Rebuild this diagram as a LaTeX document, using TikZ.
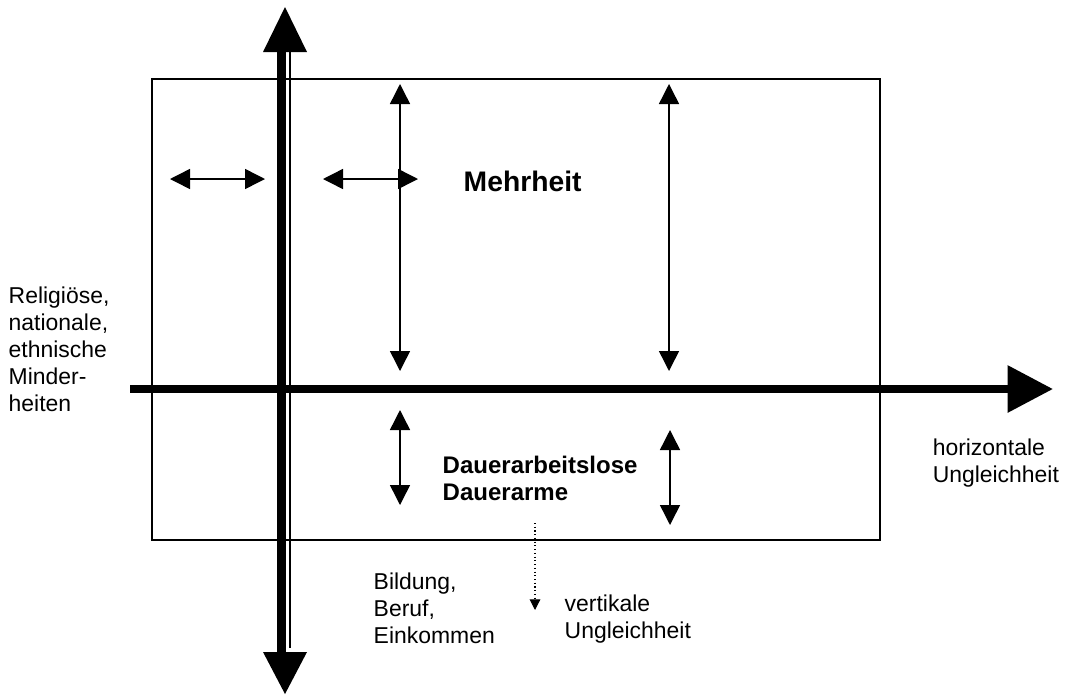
\documentclass[tikz,border=0pt]{standalone}
\usepackage{fontspec}
\setmainfont{Liberation Sans}
\usetikzlibrary{arrows.meta}

\begin{document}
\begin{tikzpicture}[x=0.75pt, y=-0.75pt, line width=1.1pt,
    dbl/.style={{Triangle[length=15pt,width=15pt]}-{Triangle[length=15pt,width=15pt]}},
    lbl/.style={anchor=base west, inner sep=0pt, align=left, font=\fontsize{17.2}{20.25}\selectfont},
    boldlbl/.style={lbl, font=\fontsize{18}{20.25}\selectfont\bfseries}]
  \useasboundingbox (0,0) rectangle (1069,697);

  % box
  \draw (152,79) rectangle (880,540);

  % vertical axis (thick + thin line)
  \draw[line width=6.75pt] (281.5,52) -- (281.5,652);
  \draw (290,52) -- (290,648);
  \fill (285,7) -- (307,52) -- (263,52) -- cycle;
  \fill (285,694) -- (307,652) -- (263,652) -- cycle;

  % horizontal axis
  \draw[line width=6pt, -{Triangle[length=34pt,width=34pt]}] (130,389) -- (1053,389);

  % arrows inside the box
  \draw[dbl] (170,179) -- (265,179);
  \draw[dbl] (323,179) -- (418,179);
  \draw[dbl] (400,84) -- (400,371);
  \draw[dbl] (669,84) -- (669,371);
  \draw[dbl] (400,410) -- (400,505);
  \draw[dbl] (670,430) -- (670,525);
  \draw[dotted, line width=0.8pt, -{Triangle[length=8pt,width=8pt]}] (535,523) -- (535,610);

  % labels (base = baseline of last line)
  \node[lbl, font=\fontsize{21.2}{25}\selectfont\bfseries] (mehrheit) at (463,191) {Mehrheit};
  \node[boldlbl] (dauer) at (442,500) {Dauerarbeitslose\\Dauerarme};
  \node[lbl] (minder) at (8,411) {Religiöse,\\nationale,\\ethnische\\Minder-\\heiten};
  \node[lbl] (horiz) at (932,482) {horizontale\\Ungleichheit};
  \node[lbl] (bildung) at (373,643) {Bildung,\\Beruf,\\Einkommen};
  \node[lbl] (vert) at (564,638) {vertikale\\Ungleichheit};
\end{tikzpicture}
\end{document}
